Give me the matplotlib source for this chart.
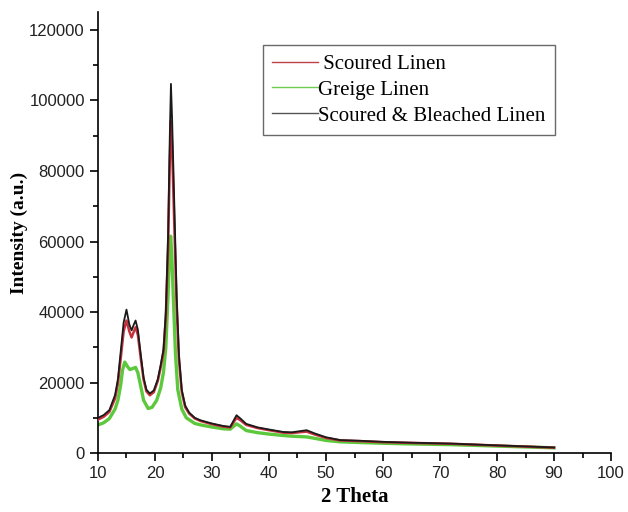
import numpy as np
import matplotlib
matplotlib.use('Agg')
import matplotlib.pyplot as plt
from matplotlib.ticker import MultipleLocator

# values (2 theta, intensity)
bleached_x = [10, 11, 12, 13, 13.5, 14, 14.5, 15.0, 15.5, 15.9, 16.3, 16.6, 17.0, 17.5, 18.0, 18.5,
              19.1, 19.8, 20.5, 21.0, 21.5, 21.9, 22.3, 22.6, 22.8, 23.0, 23.4, 23.8, 24.2, 24.7,
              25.3, 26, 27, 28, 30, 32, 33.2, 34.3, 35, 36, 38, 40, 42.5, 44, 46.6, 48, 50, 52.5,
              56, 60, 65, 72, 80, 85, 90]
bleached_y = [10000, 10800, 12200, 16500, 21000, 29000, 37000, 40700, 36500, 34800, 36500, 37600,
              35000, 28000, 21500, 18000, 16900, 17800, 21000, 25000, 29500, 40000, 62000, 90000,
              104700, 95000, 70000, 45000, 28000, 18000, 13500, 11500, 10000, 9300, 8400, 7700,
              7450, 10750, 9800, 8300, 7300, 6700, 6000, 5900, 6500, 5600, 4500, 3700, 3500, 3200,
              2950, 2700, 2200, 1900, 1600]

scoured_x = bleached_x
scoured_y = [9500, 10300, 11700, 15500, 19800, 27000, 34500, 37600, 34500, 32800, 34500, 35700,
             33500, 27000, 20800, 17500, 16400, 17300, 20500, 24300, 28700, 38500, 58000, 83000,
             94200, 87000, 64000, 41500, 26500, 17300, 13000, 11200, 9800, 9100, 8200, 7500,
             7300, 10000, 9300, 8000, 7100, 6500, 5800, 5700, 6100, 5300, 4300, 3600, 3400, 3100,
             2900, 2650, 2150, 1850, 1550]

greige_x = [10, 11, 12, 13, 13.5, 14, 14.3, 14.7, 15.2, 15.6, 16.1, 16.6, 17.0, 17.5, 18.0, 18.8,
            19.5, 20.3, 21.0, 21.5, 21.9, 22.3, 22.55, 22.75, 22.95, 23.2, 23.6, 24.0, 24.7, 25.5,
            27, 28, 30, 32, 33.2, 34.3, 35, 36, 38, 40, 42.5, 44, 46.6, 48, 50, 52.5, 56, 60, 65,
            72, 80, 90]
greige_y = [8000, 8600, 9800, 12500, 15000, 19500, 23500, 25800, 24500, 23700, 24000, 24300, 22800,
            19000, 15000, 12650, 13000, 15000, 18500, 23000, 30000, 45000, 57000, 61500, 56000,
            45000, 28000, 18000, 12500, 10000, 8400, 8000, 7400, 6900, 6800, 8300, 7600, 6400,
            5800, 5400, 5000, 4800, 4600, 4200, 3600, 3200, 3000, 2800, 2600, 2400, 2000, 1500]

fig = plt.figure(figsize=(6.28, 5.12), dpi=100)
ax = fig.add_axes([0.156, 0.115, 0.817, 0.861])

l1, = ax.plot(scoured_x, scoured_y, color='#c8303c', lw=1.8, zorder=3)
l2, = ax.plot(greige_x, greige_y, color='#5cc83c', lw=2.4, zorder=2)
l3, = ax.plot(bleached_x, bleached_y, color='#1a1a1a', lw=1.3, zorder=4)

ax.set_xlim(10, 100)
ax.set_ylim(0, 125000)
ax.xaxis.set_major_locator(MultipleLocator(10))
ax.xaxis.set_minor_locator(MultipleLocator(5))
ax.yaxis.set_major_locator(MultipleLocator(20000))
ax.yaxis.set_minor_locator(MultipleLocator(10000))
ax.spines['top'].set_visible(False)
ax.spines['right'].set_visible(False)
ax.spines['left'].set_linewidth(1.2)
ax.spines['bottom'].set_linewidth(1.2)
ax.tick_params(which='major', direction='out', length=6, width=1.2, labelsize=12,
               labelcolor='#222222')
ax.tick_params(which='minor', direction='out', length=3.5, width=1.2)
for lab in ax.get_xticklabels() + ax.get_yticklabels():
    lab.set_family('Liberation Sans')

ax.set_xlabel('2 Theta', family='Liberation Serif', fontweight='bold', fontsize=15, labelpad=4)
ax.set_ylabel('Intensity (a.u.)', family='Liberation Serif', fontweight='bold', fontsize=14,
              labelpad=1)

# legend handles drawn thin like the reference
h1 = plt.Line2D([], [], color='#c0404a', lw=1)
h2 = plt.Line2D([], [], color='#70cc50', lw=1)
h3 = plt.Line2D([], [], color='#555555', lw=1)
leg = fig.legend([h1, h2, h3], [' Scoured Linen', 'Greige Linen', 'Scoured & Bleached Linen'],
                 loc='upper left', bbox_to_anchor=(263 / 628, 1 - 45 / 512),
                 prop={'family': 'Liberation Serif', 'size': 15}, handlelength=2.2,
                 handletextpad=0.0, labelspacing=0.3, borderpad=0.45, borderaxespad=0,
                 fancybox=False, frameon=True)
leg.get_frame().set_edgecolor('#444444')
leg.get_frame().set_linewidth(1.0)

fig.savefig('out.png', dpi=100)
